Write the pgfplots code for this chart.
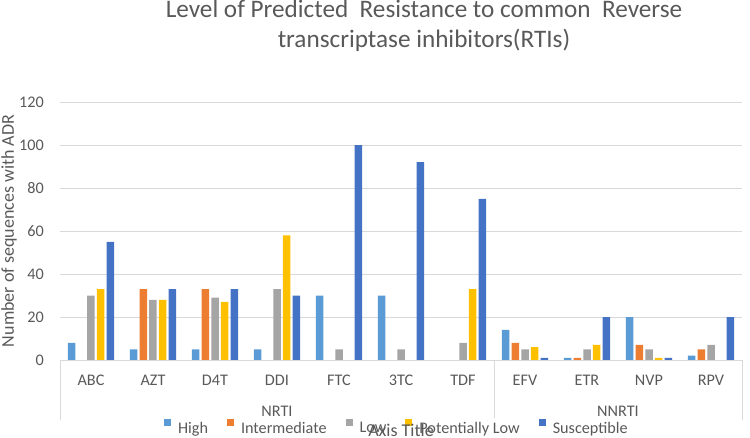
\documentclass[border=0pt]{standalone}
\usepackage{fontspec}
\setmainfont{Carlito}
\usepackage{pgfplots}
\pgfplotsset{compat=1.18}
\definecolor{cHigh}{HTML}{5B9BD5}
\definecolor{cInt}{HTML}{ED7D31}
\definecolor{cLow}{HTML}{A5A5A5}
\definecolor{cPL}{HTML}{FFC000}
\definecolor{cSus}{HTML}{4472C4}
\definecolor{txt}{HTML}{595959}
\definecolor{gridc}{HTML}{D9D9D9}
\begin{document}
\begin{tikzpicture}[x=1pt,y=1pt,font=\fontsize{16.2}{19}\selectfont,text=txt]
\useasboundingbox (-60,-77) rectangle (690,360);
\begin{axis}[
  at={(0,0)}, anchor=south west,
  scale only axis, width=682pt, height=258pt,
  xmin=-0.5, xmax=10.5, ymin=0, ymax=120,
  clip=false,
  ybar=2.2pt, bar width=7.5pt,
  xtick={0,...,10},
  xticklabels={ABC,AZT,D4T,DDI,FTC,3TC,TDF,EFV,ETR,NVP,RPV},
  ytick={0,20,...,120},
  major tick length=0pt,
  axis line style={draw=none},
  ymajorgrids, grid style={draw=gridc, line width=0.8pt},
  /pgf/number format/assume math mode=true,
  xticklabel style={anchor=base, yshift=-25pt, inner sep=0pt, text=txt},
  yticklabel style={anchor=east, xshift=-16pt, inner sep=0pt, text=txt},
  legend style={at={(0.494,-0.2636)}, anchor=center, draw=none, fill=none,
    legend columns=5, font=\fontsize{16.2}{19}\selectfont, text=txt,
    /tikz/every even column/.append style={column sep=17pt},
    /tikz/every odd column/.append style={column sep=5pt}},
  legend cell align=left,
  legend image code/.code={\fill[#1] (0pt,2pt) rectangle (7pt,9pt);},
]
\addplot[fill=cHigh, draw=none] coordinates {(0,8) (1,5) (2,5) (3,5) (4,30) (5,30) (6,0) (7,14) (8,1) (9,20) (10,2)};
\addplot[fill=cInt, draw=none] coordinates {(0,0) (1,33) (2,33) (3,0) (4,0) (5,0) (6,0) (7,8) (8,1) (9,7) (10,5)};
\addplot[fill=cLow, draw=none] coordinates {(0,30) (1,28) (2,29) (3,33) (4,5) (5,5) (6,8) (7,5) (8,5) (9,5) (10,7)};
\addplot[fill=cPL, draw=none] coordinates {(0,33) (1,28) (2,27) (3,58) (4,0) (5,0) (6,33) (7,6) (8,7) (9,1) (10,0)};
\addplot[fill=cSus, draw=none] coordinates {(0,55) (1,33) (2,33) (3,30) (4,100) (5,92) (6,75) (7,1) (8,20) (9,1) (10,20)};
\legend{High,Intermediate,Low,Potentially Low,Susceptible}
\draw[gridc, line width=0.8pt] (axis cs:-0.5,0) -- (axis cs:10.5,0);
\draw[gridc, line width=0.8pt] (axis cs:-0.5,0) -- ([yshift=-60pt]axis cs:-0.5,0);
\draw[gridc, line width=0.8pt] (axis cs:6.5,0) -- ([yshift=-58pt]axis cs:6.5,0);
\draw[gridc, line width=0.8pt] (axis cs:10.5,0) -- ([yshift=-60pt]axis cs:10.5,0);
\node[anchor=base, text=txt] at ([yshift=-56pt]axis cs:3,0) {NRTI};
\node[anchor=base, text=txt] at ([yshift=-56pt]axis cs:8.5,0) {NNRTI};
\end{axis}
\node[rotate=90, text=txt, font=\fontsize{18}{21}\selectfont] at (-51,129) {Number of sequences with ADR};
\node[text=txt, font=\fontsize{18}{21}\selectfont] at (341,-70) {Axis Title};
\node[anchor=base, text=txt, font=\fontsize{25.2}{30}\selectfont] at (364,342.5) {Level of Predicted\ \ Resistance to common\ \ Reverse};
\node[anchor=base, text=txt, font=\fontsize{25.2}{30}\selectfont] at (364,312.5) {transcriptase inhibitors(RTIs)};
\end{tikzpicture}
\end{document}
